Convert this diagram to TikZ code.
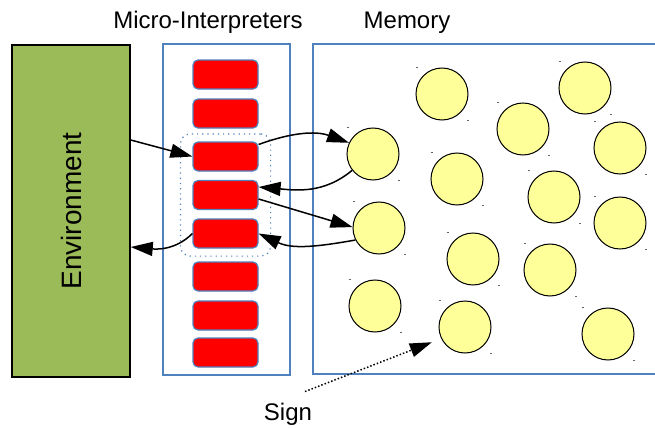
\documentclass[tikz,border=0pt]{standalone}
\usepackage{fontspec}
\setmainfont{Liberation Sans}
\usetikzlibrary{arrows.meta,fit}
\definecolor{boxblue}{HTML}{4F81BD}
\definecolor{envgreen}{HTML}{9BBB59}
\definecolor{signyellow}{HTML}{FFFF99}

\begin{document}
\begin{tikzpicture}[
  x=0.5pt,y=-0.5pt,
  panel/.style={draw=boxblue,line width=0.75pt,minimum width=63.5pt,minimum height=165.5pt,inner sep=0pt},
  interp/.style={draw=boxblue,fill=red,rounded corners=2.5pt,line width=0.6pt,minimum width=32.5pt,minimum height=14.5pt,inner sep=0pt},
  sign/.style={circle,draw=black,fill=signyellow,line width=0.5pt,minimum size=26pt,inner sep=0pt},
  speck/.style={black!60,line width=0.5pt},
  cluster/.style={draw=boxblue,dotted,line width=0.6pt,rounded corners=5pt,inner xsep=6pt,inner ysep=3.75pt},
  title/.style={font=\fontsize{12}{14}\selectfont},
  link/.style={-{Triangle[length=11pt,width=7pt]},line width=0.75pt}
]
\useasboundingbox (0,0) rectangle (655,428);

% Environment
\node[draw=black,fill=envgreen,line width=0.75pt,minimum width=59pt,minimum height=166pt,inner sep=0pt] (env) at (71,211) {};
\node[rotate=90,font=\fontsize{14}{16}\selectfont] (envtxt) at (env) {Environment};

% Micro-interpreters
\node[panel] (micro) at (226.5,209.5) {};
\node[title,anchor=base] (mititle) at (208,28) {Micro-Interpreters};
\foreach \i/\y in {1/74.5,2/113.5,3/156.5,4/195,5/233.5,6/276.5,7/315.5,8/352.5}
  \node[interp] (mi\i) at (225.5,\y) {};
\node[cluster,fit=(mi3)(mi5)] (grp) {};

% Memory
\node[panel,anchor=north west,minimum width=180pt,minimum height=165pt] (mem) at (312,43) {};
\node[title,anchor=base] (memtitle) at (407,28) {Memory};
\foreach \n/\x/\y in {1/442/94,2/585/88,3/523/129,4/620/148,5/373/154,6/457/179,7/554/197,
    8/379/228,9/620/223,10/473/259,11/550/270,12/375/306,13/465/327,14/608/334} {
  \node[sign] (s\n) at (\x,\y) {};
  \draw[speck] (s\n.west |- s\n.north) -- ++(2,0);
  \draw[speck] (s\n.east |- s\n.south) -- ++(-2,0);
}

% Links
\draw[link] ([yshift=35.5pt]env.east) -- (mi3.west);
\draw[link] ([yshift=6pt]mi3.east) to[out=20,in=160] (s5.155);
\draw[link] (s5.218) to[out=220,in=-5] ([yshift=4pt]mi4.east);
\draw[link] ([yshift=-2pt]mi4.east) -- (s8.178);
\draw[link] (s8.207) to[out=190,in=-25] (mi5.east);
\draw[link] (mi5.west) to[out=225,in=-5] ([yshift=-18pt]env.east);

% Sign
\node[title,anchor=base] (signlbl) at (288,420) {Sign};
\draw[link,densely dotted,shorten >=5pt] ([xshift=8.5pt,yshift=2pt]signlbl.north) -- (s13.206);
\end{tikzpicture}
\end{document}
